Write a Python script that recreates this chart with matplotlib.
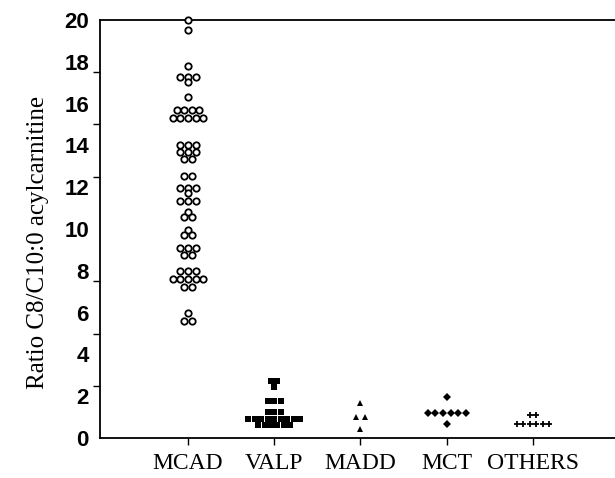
import numpy as np
import matplotlib
matplotlib.use("Agg")
import matplotlib.pyplot as plt
from matplotlib.ticker import MultipleLocator

# values
groups = ["MCAD", "VALP", "MADD", "MCT", "OTHERS"]

mcad = ([20.0, 19.5, 17.8] + [17.27] * 3 + [17.03, 16.3] + [15.69] * 4 + [15.3] * 5
        + [14.02] * 3 + [13.7] * 3 + [13.35] * 2 + [12.55] * 2 + [11.96] * 3 + [11.7]
        + [11.34] * 3 + [10.83] + [10.56] * 2 + [9.95] + [9.71] * 2 + [9.08] * 3
        + [8.76] * 2 + [7.99] * 3 + [7.59] * 5 + [7.21] * 2 + [6.0] + [5.6] * 2)
valp = [2.74] * 2 + [2.43] + [1.77] * 3 + [1.23] * 3 + [0.89] * 9 + [0.62] * 6
madd = [1.69, 0.99, 0.99, 0.43]
mct = [1.98] + [1.18] * 6 + [0.66]
others = [1.1] * 2 + [0.67] * 6

yticklabels = [0, 2, 4, 6, 8, 10, 12, 14, 16, 18, 20]


def row_offsets(vals, step):
    # spread equal values side by side, centred on the category
    vals = np.asarray(vals)
    offs = np.zeros(len(vals))
    for v in np.unique(vals):
        idx = np.where(vals == v)[0]
        offs[idx] = (np.arange(len(idx)) - (len(idx) - 1) / 2) * step
    return offs


fig = plt.figure(figsize=(6.15, 4.78), dpi=100)
ax = fig.add_axes([100 / 615, 40 / 478, 515 / 615, 418 / 478])

styles = [
    (mcad, dict(marker="o", markersize=4.6, markerfacecolor="white",
                markeredgecolor="black", markeredgewidth=1.3), 0.088),
    (valp, dict(marker="s", markersize=4.8, color="black", markeredgewidth=0), 0.075),
    (madd, dict(marker="^", markersize=5, color="black", markeredgewidth=0), 0.096),
    (mct, dict(marker="D", markersize=4, color="black", markeredgewidth=0), 0.089),
    (others, dict(marker="+", markersize=5, color="black", markeredgewidth=1.3), 0.076),
]

for i, (vals, st, step) in enumerate(styles):
    x = i + 1 + row_offsets(vals, step)
    ax.plot(x, vals, linestyle="none", clip_on=False, zorder=3, **st)

ax.set_xlim(-0.0203, 5.951)
ax.set_ylim(0, 20)

ax.spines["right"].set_visible(False)
for s in ["left", "top", "bottom"]:
    ax.spines[s].set_linewidth(1.3)

ax.set_xticks(range(1, 6))
ax.set_xticklabels(groups, fontfamily="Liberation Serif", fontsize=17)
ax.tick_params(axis="x", direction="out", length=5, width=1, pad=6)

ax.set_yticks(yticklabels)
ax.set_yticklabels([str(t) for t in yticklabels], fontfamily="Liberation Sans",
                   fontweight="bold", fontsize=16)
ax.yaxis.set_minor_locator(MultipleLocator(2.5))
ax.tick_params(axis="y", which="major", length=0, pad=8)
ax.tick_params(axis="y", which="minor", direction="out", length=5, width=1)

fig.text(38 / 615, 1 - 242 / 478, "Ratio C8/C10:0 acylcarnitine", rotation=90,
         ha="center", va="center", fontfamily="Liberation Serif", fontsize=18)

fig.savefig("out.png", dpi=100)
